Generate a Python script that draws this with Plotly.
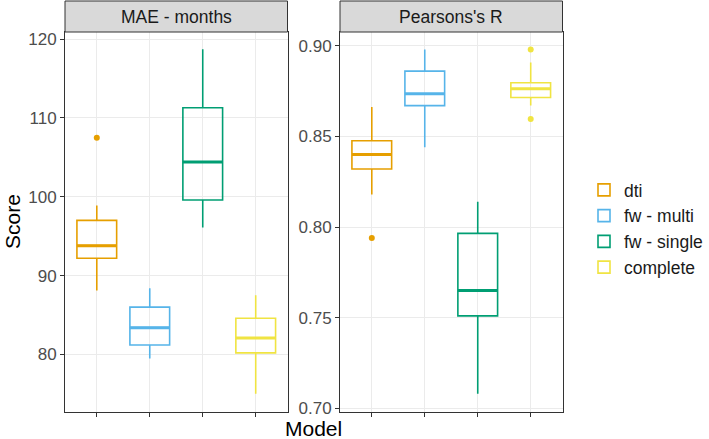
import plotly.graph_objects as go

models = ["dti", "fw - multi", "fw - single", "complete"]
colors = ["#E69F00", "#56B4E9", "#009E73", "#F0E442"]
facets = ["MAE - months", "Pearsons's R"]

# MAE - months
mae_lower = [88.1, 79.5, 96.1, 75.0]
mae_q1 = [92.2, 81.2, 99.6, 80.2]
mae_median = [93.8, 83.4, 104.4, 82.1]
mae_q3 = [97.0, 86.0, 111.3, 84.6]
mae_upper = [98.9, 88.4, 118.7, 87.5]
mae_outlier_model = ["dti"]
mae_outlier_value = [107.5]

# Pearson's R
r_lower = [0.818, 0.844, 0.708, 0.867]
r_q1 = [0.832, 0.867, 0.751, 0.8715]
r_median = [0.840, 0.8735, 0.765, 0.8763]
r_q3 = [0.8476, 0.886, 0.7965, 0.8796]
r_upper = [0.8663, 0.898, 0.814, 0.8908]
r_outlier_model = ["dti", "complete", "complete"]
r_outlier_value = [0.794, 0.898, 0.8596]

mae_ticks = [80, 90, 100, 110, 120]
r_ticks = [0.70, 0.75, 0.80, 0.85, 0.90]
r_ticklabels = ["0.70", "0.75", "0.80", "0.85", "0.90"]

W, H = 709, 439
box_w = 0.75
FONT = "Liberation Sans, Arial, sans-serif"

fig = go.Figure()

panels = [
    (mae_lower, mae_q1, mae_median, mae_q3, mae_upper, mae_outlier_model, mae_outlier_value, "x", "y"),
    (r_lower, r_q1, r_median, r_q3, r_upper, r_outlier_model, r_outlier_value, "x2", "y2"),
]

for p, (lo, q1, med, q3, up, om, ov, xa, ya) in enumerate(panels):
    for i, m in enumerate(models):
        fig.add_trace(go.Box(
            x=[i], q1=[q1[i]], median=[med[i]], q3=[q3[i]],
            lowerfence=[lo[i]], upperfence=[up[i]],
            width=box_w, whiskerwidth=0,
            fillcolor="rgba(255,255,255,0)",
            line=dict(color=colors[i], width=1.6),
            name=m, legendgroup=m, showlegend=(p == 0),
            boxpoints=False, hoverinfo="skip",
            xaxis=xa, yaxis=ya,
        ))
        # thicker median line (ggplot fatten)
        fig.add_trace(go.Scatter(
            x=[i - box_w / 2, i + box_w / 2], y=[med[i], med[i]],
            mode="lines", line=dict(color=colors[i], width=3),
            showlegend=False, hoverinfo="skip", legendgroup=m,
            xaxis=xa, yaxis=ya,
        ))
    for mname, val in zip(om, ov):
        idx = models.index(mname)
        fig.add_trace(go.Scatter(
            x=[idx], y=[val], mode="markers",
            marker=dict(color=colors[idx], size=6),
            showlegend=False, hoverinfo="skip", legendgroup=mname,
            xaxis=xa, yaxis=ya,
        ))

def px2x(v):
    return v / W

def px2y(v):
    return 1 - v / H

x1d = [px2x(65), px2x(287.5)]
x2d = [px2x(340), px2x(562.5)]
yd = [px2y(412), px2y(32)]

axis_common = dict(
    showline=True, mirror=True, linecolor="#333333", linewidth=1,
    showgrid=True, gridcolor="#EBEBEB", gridwidth=1, zeroline=False,
    ticks="outside", ticklen=4, tickcolor="#333333", tickwidth=1,
    tickfont=dict(family=FONT, size=17, color="#4D4D4D"),
    automargin=False,
)

fig.update_layout(
    width=W, height=H,
    margin=dict(l=0, r=0, t=0, b=0, autoexpand=False),
    paper_bgcolor="white", plot_bgcolor="white",
    boxmode="overlay",
    xaxis=dict(domain=x1d, range=[-0.6, 3.6], tickvals=[0, 1, 2, 3],
               showticklabels=False, **axis_common),
    xaxis2=dict(domain=x2d, range=[-0.6, 3.6], tickvals=[0, 1, 2, 3],
                showticklabels=False, anchor="y2", **axis_common),
    yaxis=dict(domain=yd, range=[72.7, 120.9], tickvals=mae_ticks, anchor="x", **axis_common),
    yaxis2=dict(domain=yd, range=[0.698, 0.9076], tickvals=r_ticks, ticktext=r_ticklabels,
                anchor="x2", **axis_common),
    legend=dict(x=px2x(584), y=px2y(172), xanchor="left", yanchor="top",
                font=dict(family=FONT, size=17.5, color="#1A1A1A"),
                bgcolor="rgba(0,0,0,0)", tracegroupgap=0, traceorder="grouped"),
    font=dict(family=FONT),
)

# strips
for dom, label in [(x1d, facets[0]), (x2d, facets[1])]:
    fig.add_shape(type="rect", xref="paper", yref="paper",
                  x0=dom[0], x1=dom[1], y0=px2y(32), y1=px2y(1),
                  fillcolor="#D9D9D9", line=dict(color="#333333", width=1))
    fig.add_annotation(x=(dom[0] + dom[1]) / 2, y=(px2y(32) + px2y(1)) / 2,
                       xref="paper", yref="paper", text=label, showarrow=False,
                       xanchor="center", yanchor="middle",
                       font=dict(family=FONT, size=17.5, color="#1A1A1A"))

fig.add_annotation(x=px2x(12), y=px2y(222), xref="paper", yref="paper",
                   text="Score", textangle=-90, showarrow=False,
                   xanchor="center", yanchor="middle",
                   font=dict(family=FONT, size=21, color="black"))
fig.add_annotation(x=px2x(313), y=px2y(428), xref="paper", yref="paper",
                   text="Model", showarrow=False,
                   xanchor="center", yanchor="middle",
                   font=dict(family=FONT, size=21, color="black"))

fig.write_html("out.html", config={"displayModeBar": False},
               post_script="document.body.style.margin='0';document.body.style.overflow='hidden';")
